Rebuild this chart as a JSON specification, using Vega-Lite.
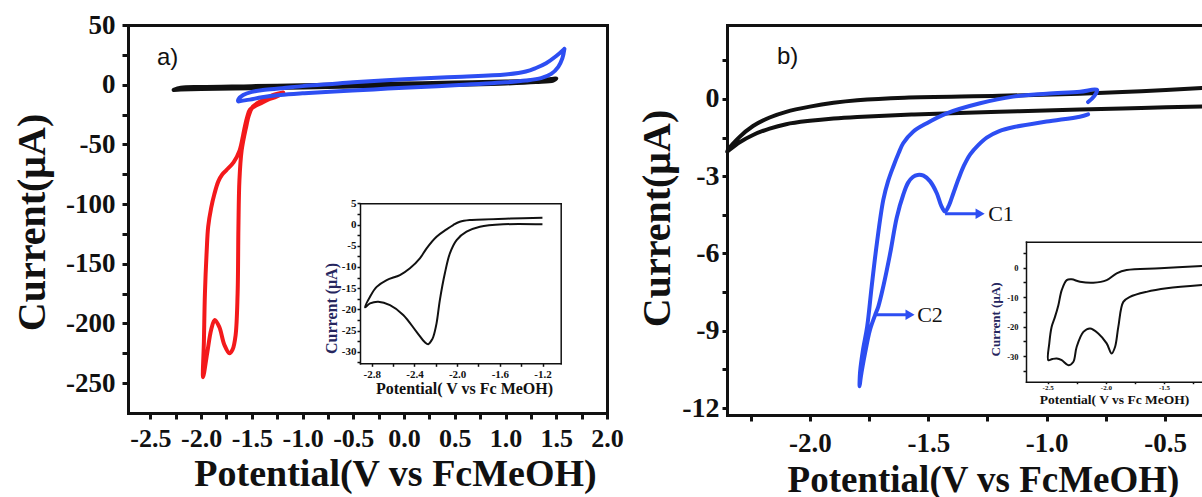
{
  "$schema": "https://vega.github.io/schema/vega-lite/v6.json",
  "width": 1202,
  "height": 497,
  "padding": 0,
  "autosize": {"type": "none"},
  "background": "white",
  "config": {
    "font": "Liberation Serif",
    "view": {"stroke": null},
    "style": {
      "guide-label": {"font": "Liberation Serif", "fontWeight": "bold", "fill": "#111111"},
      "guide-title": {"font": "Liberation Serif", "fontWeight": "bold"}
    },
    "axis": {
      "labelFont": "Liberation Serif",
      "titleFont": "Liberation Serif",
      "labelFontWeight": "bold",
      "titleFontWeight": "bold",
      "labelColor": "#111111",
      "titleColor": "#111111",
      "domainColor": "#111111",
      "tickColor": "#111111",
      "grid": false,
      "labelFlush": false,
      "labelOverlap": false,
      "domainCap": "square"
    }
  },
  "datasets": {
    "a_main": [
      {"series": "black", "i": 1, "potential": -2.27, "current": -4.4},
      {"series": "black", "i": 2, "potential": -2.2, "current": -2.6},
      {"series": "black", "i": 3, "potential": -2.0, "current": -1.9},
      {"series": "black", "i": 4, "potential": -1.5, "current": -1.2},
      {"series": "black", "i": 5, "potential": -1.0, "current": -0.4},
      {"series": "black", "i": 6, "potential": -0.5, "current": 0.3},
      {"series": "black", "i": 7, "potential": 0.0, "current": 1.0},
      {"series": "black", "i": 8, "potential": 0.5, "current": 1.8},
      {"series": "black", "i": 9, "potential": 1.0, "current": 2.6},
      {"series": "black", "i": 10, "potential": 1.3, "current": 3.6},
      {"series": "black", "i": 11, "potential": 1.45, "current": 4.8},
      {"series": "black", "i": 12, "potential": 1.5, "current": 5.2},
      {"series": "black", "i": 13, "potential": 1.47, "current": 3.5},
      {"series": "black", "i": 14, "potential": 1.3, "current": 2.2},
      {"series": "black", "i": 15, "potential": 1.0, "current": 1.0},
      {"series": "black", "i": 16, "potential": 0.5, "current": 0.0},
      {"series": "black", "i": 17, "potential": 0.0, "current": -0.9},
      {"series": "black", "i": 18, "potential": -0.5, "current": -1.6},
      {"series": "black", "i": 19, "potential": -1.0, "current": -2.3},
      {"series": "black", "i": 20, "potential": -1.5, "current": -3.0},
      {"series": "black", "i": 21, "potential": -2.0, "current": -3.6},
      {"series": "black", "i": 22, "potential": -2.2, "current": -4.1},
      {"series": "black", "i": 23, "potential": -2.27, "current": -4.4},
      {"series": "red", "i": 1, "potential": -1.19, "current": -6.5},
      {"series": "red", "i": 2, "potential": -1.3, "current": -9},
      {"series": "red", "i": 3, "potential": -1.39, "current": -12.8},
      {"series": "red", "i": 4, "potential": -1.49, "current": -18.4},
      {"series": "red", "i": 5, "potential": -1.53, "current": -26},
      {"series": "red", "i": 6, "potential": -1.555, "current": -35},
      {"series": "red", "i": 7, "potential": -1.6, "current": -55},
      {"series": "red", "i": 8, "potential": -1.622, "current": -80},
      {"series": "red", "i": 9, "potential": -1.632, "current": -120},
      {"series": "red", "i": 10, "potential": -1.64, "current": -175},
      {"series": "red", "i": 11, "potential": -1.66, "current": -210},
      {"series": "red", "i": 12, "potential": -1.69, "current": -222},
      {"series": "red", "i": 13, "potential": -1.72, "current": -225},
      {"series": "red", "i": 14, "potential": -1.77, "current": -218},
      {"series": "red", "i": 15, "potential": -1.82, "current": -203},
      {"series": "red", "i": 16, "potential": -1.865, "current": -197},
      {"series": "red", "i": 17, "potential": -1.9, "current": -205},
      {"series": "red", "i": 18, "potential": -1.94, "current": -225},
      {"series": "red", "i": 19, "potential": -1.98, "current": -245},
      {"series": "red", "i": 20, "potential": -1.972, "current": -215},
      {"series": "red", "i": 21, "potential": -1.962, "current": -175},
      {"series": "red", "i": 22, "potential": -1.945, "current": -140},
      {"series": "red", "i": 23, "potential": -1.93, "current": -119},
      {"series": "red", "i": 24, "potential": -1.9, "current": -103},
      {"series": "red", "i": 25, "potential": -1.87, "current": -92},
      {"series": "red", "i": 26, "potential": -1.83, "current": -81},
      {"series": "red", "i": 27, "potential": -1.79, "current": -75},
      {"series": "red", "i": 28, "potential": -1.75, "current": -71.5},
      {"series": "red", "i": 29, "potential": -1.68, "current": -65},
      {"series": "red", "i": 30, "potential": -1.62, "current": -55},
      {"series": "red", "i": 31, "potential": -1.585, "current": -42},
      {"series": "red", "i": 32, "potential": -1.568, "current": -35},
      {"series": "red", "i": 33, "potential": -1.545, "current": -27},
      {"series": "red", "i": 34, "potential": -1.519, "current": -21},
      {"series": "red", "i": 35, "potential": -1.47, "current": -18},
      {"series": "red", "i": 36, "potential": -1.42, "current": -16},
      {"series": "red", "i": 37, "potential": -1.34, "current": -12.5},
      {"series": "red", "i": 38, "potential": -1.257, "current": -10},
      {"series": "red", "i": 39, "potential": -1.19, "current": -7.2},
      {"series": "blue", "i": 1, "potential": 1.58, "current": 30},
      {"series": "blue", "i": 2, "potential": 1.5, "current": 24},
      {"series": "blue", "i": 3, "potential": 1.4, "current": 18},
      {"series": "blue", "i": 4, "potential": 1.3, "current": 14},
      {"series": "blue", "i": 5, "potential": 1.2, "current": 11},
      {"series": "blue", "i": 6, "potential": 1.0, "current": 8.5},
      {"series": "blue", "i": 7, "potential": 0.5, "current": 6.5},
      {"series": "blue", "i": 8, "potential": 0.0, "current": 4.5},
      {"series": "blue", "i": 9, "potential": -0.5, "current": 2},
      {"series": "blue", "i": 10, "potential": -0.75, "current": 0.3},
      {"series": "blue", "i": 11, "potential": -1.0, "current": -1.2},
      {"series": "blue", "i": 12, "potential": -1.2, "current": -3},
      {"series": "blue", "i": 13, "potential": -1.39, "current": -4.4},
      {"series": "blue", "i": 14, "potential": -1.5, "current": -6},
      {"series": "blue", "i": 15, "potential": -1.585, "current": -8.6},
      {"series": "blue", "i": 16, "potential": -1.63, "current": -12},
      {"series": "blue", "i": 17, "potential": -1.634, "current": -14},
      {"series": "blue", "i": 18, "potential": -1.6, "current": -13.5},
      {"series": "blue", "i": 19, "potential": -1.52, "current": -12.5},
      {"series": "blue", "i": 20, "potential": -1.4, "current": -10.5},
      {"series": "blue", "i": 21, "potential": -1.22, "current": -8.6},
      {"series": "blue", "i": 22, "potential": -1.0, "current": -7.2},
      {"series": "blue", "i": 23, "potential": -0.73, "current": -5.9},
      {"series": "blue", "i": 24, "potential": -0.3, "current": -4},
      {"series": "blue", "i": 25, "potential": 0.0, "current": -2.5},
      {"series": "blue", "i": 26, "potential": 0.5, "current": -0.5},
      {"series": "blue", "i": 27, "potential": 1.0, "current": 2},
      {"series": "blue", "i": 28, "potential": 1.2, "current": 3.5},
      {"series": "blue", "i": 29, "potential": 1.35, "current": 5.5},
      {"series": "blue", "i": 30, "potential": 1.45, "current": 9},
      {"series": "blue", "i": 31, "potential": 1.52, "current": 15},
      {"series": "blue", "i": 32, "potential": 1.56, "current": 22},
      {"series": "blue", "i": 33, "potential": 1.58, "current": 30}
    ],
    "a_inset": [
      {"i": 1, "potential": -1.201, "current": 1.6},
      {"i": 2, "potential": -1.5, "current": 1.4},
      {"i": 3, "potential": -1.881, "current": 1.06},
      {"i": 4, "potential": -1.975, "current": 0.66},
      {"i": 5, "potential": -2.037, "current": -0.12},
      {"i": 6, "potential": -2.099, "current": -1.14},
      {"i": 7, "potential": -2.193, "current": -2.87},
      {"i": 8, "potential": -2.286, "current": -5.6},
      {"i": 9, "potential": -2.349, "current": -7.97},
      {"i": 10, "potential": -2.442, "current": -10.3},
      {"i": 11, "potential": -2.536, "current": -11.9},
      {"i": 12, "potential": -2.66, "current": -13.1},
      {"i": 13, "potential": -2.754, "current": -14.7},
      {"i": 14, "potential": -2.816, "current": -17.0},
      {"i": 15, "potential": -2.863, "current": -19.5},
      {"i": 16, "potential": -2.816, "current": -18.6},
      {"i": 17, "potential": -2.739, "current": -18.2},
      {"i": 18, "potential": -2.629, "current": -19.0},
      {"i": 19, "potential": -2.505, "current": -21.3},
      {"i": 20, "potential": -2.38, "current": -25.3},
      {"i": 21, "potential": -2.3, "current": -27.8},
      {"i": 22, "potential": -2.271, "current": -28.2},
      {"i": 23, "potential": -2.24, "current": -27.3},
      {"i": 24, "potential": -2.224, "current": -26.5},
      {"i": 25, "potential": -2.193, "current": -23.3},
      {"i": 26, "potential": -2.162, "current": -17.8},
      {"i": 27, "potential": -2.115, "current": -11.5},
      {"i": 28, "potential": -2.068, "current": -6.8},
      {"i": 29, "potential": -2.005, "current": -3.66},
      {"i": 30, "potential": -1.912, "current": -1.7},
      {"i": 31, "potential": -1.787, "current": -0.52},
      {"i": 32, "potential": -1.569, "current": 0.05},
      {"i": 33, "potential": -1.201, "current": 0.05}
    ],
    "b_main": [
      {"series": "black", "i": 1, "potential": -0.344, "current": 0.42},
      {"series": "black", "i": 2, "potential": -0.6, "current": 0.3},
      {"series": "black", "i": 3, "potential": -0.86, "current": 0.2},
      {"series": "black", "i": 4, "potential": -1.2, "current": 0.12},
      {"series": "black", "i": 5, "potential": -1.6, "current": 0.05},
      {"series": "black", "i": 6, "potential": -1.8, "current": -0.05},
      {"series": "black", "i": 7, "potential": -1.9, "current": -0.15},
      {"series": "black", "i": 8, "potential": -2.0, "current": -0.3},
      {"series": "black", "i": 9, "potential": -2.1, "current": -0.5},
      {"series": "black", "i": 10, "potential": -2.17, "current": -0.72},
      {"series": "black", "i": 11, "potential": -2.24, "current": -1.05},
      {"series": "black", "i": 12, "potential": -2.3, "current": -1.5},
      {"series": "black", "i": 13, "potential": -2.35, "current": -2.04},
      {"series": "black", "i": 14, "potential": -2.3, "current": -1.7},
      {"series": "black", "i": 15, "potential": -2.24, "current": -1.4},
      {"series": "black", "i": 16, "potential": -2.17, "current": -1.15},
      {"series": "black", "i": 17, "potential": -2.1, "current": -0.98},
      {"series": "black", "i": 18, "potential": -2.0, "current": -0.85},
      {"series": "black", "i": 19, "potential": -1.9, "current": -0.76},
      {"series": "black", "i": 20, "potential": -1.8, "current": -0.7},
      {"series": "black", "i": 21, "potential": -1.56, "current": -0.6},
      {"series": "black", "i": 22, "potential": -1.2, "current": -0.5},
      {"series": "black", "i": 23, "potential": -0.86, "current": -0.41},
      {"series": "black", "i": 24, "potential": -0.6, "current": -0.35},
      {"series": "black", "i": 25, "potential": -0.344, "current": -0.29},
      {"series": "blue", "i": 1, "potential": -0.825, "current": -0.6},
      {"series": "blue", "i": 2, "potential": -0.86, "current": -0.69},
      {"series": "blue", "i": 3, "potential": -1.0, "current": -0.88},
      {"series": "blue", "i": 4, "potential": -1.142, "current": -1.1},
      {"series": "blue", "i": 5, "potential": -1.2, "current": -1.25},
      {"series": "blue", "i": 6, "potential": -1.253, "current": -1.5},
      {"series": "blue", "i": 7, "potential": -1.29, "current": -1.8},
      {"series": "blue", "i": 8, "potential": -1.323, "current": -2.15},
      {"series": "blue", "i": 9, "potential": -1.35, "current": -2.6},
      {"series": "blue", "i": 10, "potential": -1.372, "current": -3.1},
      {"series": "blue", "i": 11, "potential": -1.394, "current": -3.66},
      {"series": "blue", "i": 12, "potential": -1.412, "current": -4.12},
      {"series": "blue", "i": 13, "potential": -1.429, "current": -4.37},
      {"series": "blue", "i": 14, "potential": -1.445, "current": -4.15},
      {"series": "blue", "i": 15, "potential": -1.464, "current": -3.66},
      {"series": "blue", "i": 16, "potential": -1.492, "current": -3.2},
      {"series": "blue", "i": 17, "potential": -1.52, "current": -2.98},
      {"series": "blue", "i": 18, "potential": -1.545, "current": -2.95},
      {"series": "blue", "i": 19, "potential": -1.565, "current": -3.03},
      {"series": "blue", "i": 20, "potential": -1.585, "current": -3.25},
      {"series": "blue", "i": 21, "potential": -1.605, "current": -3.7},
      {"series": "blue", "i": 22, "potential": -1.633, "current": -4.6},
      {"series": "blue", "i": 23, "potential": -1.661, "current": -6.0},
      {"series": "blue", "i": 24, "potential": -1.69, "current": -7.28},
      {"series": "blue", "i": 25, "potential": -1.711, "current": -8.06},
      {"series": "blue", "i": 26, "potential": -1.725, "current": -8.4},
      {"series": "blue", "i": 27, "potential": -1.746, "current": -8.96},
      {"series": "blue", "i": 28, "potential": -1.767, "current": -9.87},
      {"series": "blue", "i": 29, "potential": -1.785, "current": -10.8},
      {"series": "blue", "i": 30, "potential": -1.79, "current": -11.15},
      {"series": "blue", "i": 31, "potential": -1.788, "current": -10.6},
      {"series": "blue", "i": 32, "potential": -1.775, "current": -9.7},
      {"series": "blue", "i": 33, "potential": -1.758, "current": -8.84},
      {"series": "blue", "i": 34, "potential": -1.739, "current": -7.28},
      {"series": "blue", "i": 35, "potential": -1.717, "current": -5.6},
      {"series": "blue", "i": 36, "potential": -1.69, "current": -3.92},
      {"series": "blue", "i": 37, "potential": -1.67, "current": -3.2},
      {"series": "blue", "i": 38, "potential": -1.648, "current": -2.63},
      {"series": "blue", "i": 39, "potential": -1.625, "current": -2.1},
      {"series": "blue", "i": 40, "potential": -1.606, "current": -1.72},
      {"series": "blue", "i": 41, "potential": -1.564, "current": -1.27},
      {"series": "blue", "i": 42, "potential": -1.506, "current": -0.94},
      {"series": "blue", "i": 43, "potential": -1.422, "current": -0.56},
      {"series": "blue", "i": 44, "potential": -1.281, "current": -0.17},
      {"series": "blue", "i": 45, "potential": -1.142, "current": 0.09},
      {"series": "blue", "i": 46, "potential": -1.0, "current": 0.2},
      {"series": "blue", "i": 47, "potential": -0.859, "current": 0.28},
      {"series": "blue", "i": 48, "potential": -0.787, "current": 0.35},
      {"series": "blue", "i": 49, "potential": -0.8, "current": 0.1},
      {"series": "blue", "i": 50, "potential": -0.825, "current": -0.12}
    ],
    "b_inset": [
      {"i": 1, "potential": -1.174, "current": 0.57},
      {"i": 2, "potential": -1.535, "current": -0.2},
      {"i": 3, "potential": -1.821, "current": -0.79},
      {"i": 4, "potential": -1.907, "current": -1.9},
      {"i": 5, "potential": -1.993, "current": -4.2},
      {"i": 6, "potential": -2.108, "current": -5.1},
      {"i": 7, "potential": -2.222, "current": -4.77},
      {"i": 8, "potential": -2.294, "current": -3.95},
      {"i": 9, "potential": -2.336, "current": -4.2},
      {"i": 10, "potential": -2.379, "current": -7.6},
      {"i": 11, "potential": -2.408, "current": -12.7},
      {"i": 12, "potential": -2.437, "current": -16.7},
      {"i": 13, "potential": -2.466, "current": -20.1},
      {"i": 14, "potential": -2.486, "current": -25.7},
      {"i": 15, "potential": -2.494, "current": -31.4},
      {"i": 16, "potential": -2.46, "current": -31.0},
      {"i": 17, "potential": -2.422, "current": -30.8},
      {"i": 18, "potential": -2.379, "current": -31.4},
      {"i": 19, "potential": -2.322, "current": -33.1},
      {"i": 20, "potential": -2.28, "current": -32.0},
      {"i": 21, "potential": -2.251, "current": -26.9},
      {"i": 22, "potential": -2.193, "current": -21.8},
      {"i": 23, "potential": -2.136, "current": -20.6},
      {"i": 24, "potential": -2.065, "current": -22.3},
      {"i": 25, "potential": -1.993, "current": -25.7},
      {"i": 26, "potential": -1.95, "current": -29.1},
      {"i": 27, "potential": -1.921, "current": -26.9},
      {"i": 28, "potential": -1.893, "current": -20.1},
      {"i": 29, "potential": -1.85, "current": -11.6},
      {"i": 30, "potential": -1.793, "current": -9.9},
      {"i": 31, "potential": -1.65, "current": -8.2},
      {"i": 32, "potential": -1.477, "current": -7.0},
      {"i": 33, "potential": -1.174, "current": -5.9}
    ],
    "a_text": [{"label": "a)", "potential": -2.435, "current": 22.3}],
    "b_text": [{"label": "b)", "potential": -2.139, "current": 1.63}],
    "b_notes": [
      {"label": "C1", "potential": -1.247, "current": -4.46},
      {"label": "C2", "potential": -1.547, "current": -8.38}
    ],
    "b_arrows": [
      {"from": -1.429, "to": -1.281, "current": -4.46},
      {"from": -1.72, "to": -1.577, "current": -8.38}
    ]
  },
  "layer": [
    {
      "layer": [
        {
          "data": {"name": "a_main"},
          "mark": {"type": "line", "strokeWidth": 4, "interpolate": "catmull-rom", "strokeCap": "round", "strokeJoin": "round"},
          "encoding": {
            "x": {
              "field": "potential", "type": "quantitative",
              "scale": {"domain": [-2.72, 2.0], "range": [128, 607], "nice": false, "zero": false},
              "axis": {
                "orient": "bottom", "offset": -84,
                "values": [-2.5, -2.25, -2, -1.75, -1.5, -1.25, -1, -0.75, -0.5, -0.25, 0, 0.25, 0.5, 0.75, 1, 1.25, 1.5, 1.75, 2],
                "labelExpr": "abs(datum.value*2-round(datum.value*2))<0.001 ? replace(format(datum.value,'.1f'),'\u2212','-') : ''",
                "tickSize": 6,
                "tickWidth": 3, "domainWidth": 3,
                "labelFont": "Liberation Serif", "labelFontWeight": "bold", "labelColor": "#111111",
                "labelFontSize": 26, "labelPadding": 6,
                "title": "Potential(V vs FcMeOH)", "titleFontSize": 38,
                "titleX": 395, "titleY": 72, "titleAlign": "center", "titleBaseline": "alphabetic", "titleAngle": 0
              }
            },
            "y": {
              "field": "current", "type": "quantitative",
              "scale": {"domain": [-275, 50], "range": [413, 25], "nice": false, "zero": false},
              "axis": {
                "orient": "left", "offset": -128,
                "values": [50, 25, 0, -25, -50, -75, -100, -125, -150, -175, -200, -225, -250],
                "labelExpr": "datum.value % 50 == 0 ? replace(format(datum.value,'d'),'\u2212','-') : ''",
                "tickSize": 6,
                "tickWidth": 3, "domainWidth": 3,
                "labelFont": "Liberation Serif", "labelFontWeight": "bold", "labelColor": "#111111",
                "labelFontSize": 27, "labelPadding": 7,
                "title": "Current(μA)", "titleFontSize": 40,
                "titleX": -96, "titleY": 222, "titleAngle": 270, "titleAlign": "center", "titleBaseline": "middle"
              }
            },
            "color": {
              "field": "series", "type": "nominal",
              "scale": {"domain": ["black", "blue", "red"], "range": ["#111111", "#2d4ef2", "#f3191b"]},
              "legend": null
            },
            "order": {"field": "i", "type": "quantitative"}
          }
        },
        {
          "data": {"name": "a_text"},
          "mark": {"type": "text", "font": "Liberation Sans", "fontSize": 24, "align": "left", "baseline": "middle", "color": "#111111"},
          "encoding": {
            "x": {
              "field": "potential", "type": "quantitative",
              "scale": {"domain": [-2.72, 2.0], "range": [128, 607], "nice": false, "zero": false},
              "axis": {"orient": "top", "offset": -25, "ticks": false, "labels": false, "title": null, "domainWidth": 3}
            },
            "y": {
              "field": "current", "type": "quantitative",
              "scale": {"domain": [-275, 50], "range": [413, 25], "nice": false, "zero": false},
              "axis": {"orient": "right", "offset": -595, "ticks": false, "labels": false, "title": null, "domainWidth": 3}
            },
            "text": {"field": "label"}
          }
        }
      ],
      "resolve": {"axis": {"x": "independent", "y": "independent"}}
    },
    {
      "layer": [
        {
          "data": {"name": "a_inset"},
          "mark": {"type": "line", "strokeWidth": 2, "color": "#111111", "interpolate": "catmull-rom", "strokeJoin": "round"},
          "encoding": {
            "x": {
              "field": "potential", "type": "quantitative",
              "scale": {"domain": [-2.91, -1.03], "range": [360, 560.7], "nice": false, "zero": false},
              "axis": {
                "orient": "bottom", "offset": -133.7,
                "values": [-2.8, -2.6, -2.4, -2.2, -2, -1.8, -1.6, -1.4, -1.2],
                "labelExpr": "abs(datum.value/0.4-round(datum.value/0.4))<0.01 ? replace(format(datum.value,'.1f'),'\u2212','-') : ''",
                "tickSize": 3,
                "tickWidth": 1.5, "domainWidth": 1.5,
                "labelFont": "Liberation Serif", "labelFontWeight": "bold", "labelColor": "#111111",
                "labelFontSize": 11, "labelPadding": 2,
                "title": "Potential( V vs Fc MeOH)", "titleFontSize": 16,
                "titleX": 464, "titleY": 29.7, "titleAlign": "center", "titleBaseline": "alphabetic", "titleAngle": 0
              }
            },
            "y": {
              "field": "current", "type": "quantitative",
              "scale": {"domain": [-32.7, 5], "range": [363.3, 203.3], "nice": false, "zero": false},
              "axis": {
                "orient": "left", "offset": -360,
                "values": [5, 2.5, 0, -2.5, -5, -7.5, -10, -12.5, -15, -17.5, -20, -22.5, -25, -27.5, -30, -32.5],
                "labelExpr": "abs(datum.value/5-round(datum.value/5))<0.01 ? replace(format(datum.value,'d'),'\u2212','-') : ''",
                "tickSize": 3,
                "tickWidth": 1.5, "domainWidth": 1.5,
                "labelFont": "Liberation Serif", "labelFontWeight": "bold", "labelColor": "#111111",
                "labelFontSize": 11, "labelPadding": 1,
                "title": "Current (μA)", "titleFontSize": 16, "titleColor": "#26265e",
                "titleX": -28.5, "titleY": 308, "titleAngle": 270, "titleAlign": "center", "titleBaseline": "middle"
              }
            },
            "order": {"field": "i", "type": "quantitative"}
          }
        },
        {
          "data": {"name": "a_inset"},
          "mark": {"type": "line", "strokeOpacity": 0},
          "encoding": {
            "x": {
              "field": "potential", "type": "quantitative",
              "scale": {"domain": [-2.91, -1.03], "range": [360, 560.7], "nice": false, "zero": false},
              "axis": {"orient": "top", "offset": -203.3, "ticks": false, "labels": false, "title": null, "domainWidth": 1.5}
            },
            "y": {
              "field": "current", "type": "quantitative",
              "scale": {"domain": [-32.7, 5], "range": [363.3, 203.3], "nice": false, "zero": false},
              "axis": {"orient": "right", "offset": -641.3, "ticks": false, "labels": false, "title": null, "domainWidth": 1.5}
            },
            "order": {"field": "i", "type": "quantitative"}
          }
        }
      ],
      "resolve": {"axis": {"x": "independent", "y": "independent"}}
    },
    {
      "layer": [
        {
          "data": {"name": "b_main"},
          "mark": {"type": "line", "strokeWidth": 4, "interpolate": "catmull-rom", "strokeCap": "round", "strokeJoin": "round"},
          "encoding": {
            "x": {
              "field": "potential", "type": "quantitative",
              "scale": {"domain": [-2.35, -0.344], "range": [727, 1202], "nice": false, "zero": false},
              "axis": {
                "orient": "bottom", "offset": -82,
                "values": [-2.25, -2, -1.75, -1.5, -1.25, -1, -0.75, -0.5],
                "labelExpr": "abs(datum.value*2-round(datum.value*2))<0.001 ? replace(format(datum.value,'.1f'),'\u2212','-') : ''",
                "tickSize": 6,
                "tickWidth": 3, "domainWidth": 3,
                "labelFont": "Liberation Serif", "labelFontWeight": "bold", "labelColor": "#111111",
                "labelFontSize": 27, "labelPadding": 9,
                "title": "Potential(V vs FcMeOH)", "titleFontSize": 37,
                "titleX": 983, "titleY": 76, "titleAlign": "center", "titleBaseline": "alphabetic", "titleAngle": 0
              }
            },
            "y": {
              "field": "current", "type": "quantitative",
              "scale": {"domain": [-12.27, 2.87], "range": [415, 25], "nice": false, "zero": false},
              "axis": {
                "orient": "left", "offset": -727,
                "values": [1.5, 0, -1.5, -3, -4.5, -6, -7.5, -9, -10.5, -12],
                "labelExpr": "datum.value % 3 == 0 ? replace(format(datum.value,'d'),'\u2212','-') : ''",
                "tickSize": 5,
                "tickWidth": 3, "domainWidth": 3,
                "labelFont": "Liberation Serif", "labelFontWeight": "bold", "labelColor": "#111111",
                "labelFontSize": 28, "labelPadding": 3,
                "title": "Current(μA)", "titleFontSize": 40,
                "titleX": -70, "titleY": 218, "titleAngle": 270, "titleAlign": "center", "titleBaseline": "middle"
              }
            },
            "color": {
              "field": "series", "type": "nominal",
              "scale": {"domain": ["black", "blue", "red"], "range": ["#111111", "#2d4ef2", "#f3191b"]},
              "legend": null
            },
            "order": {"field": "i", "type": "quantitative"}
          }
        },
        {
          "data": {"name": "b_text"},
          "mark": {"type": "text", "font": "Liberation Sans", "fontSize": 24, "align": "left", "baseline": "middle", "color": "#111111"},
          "encoding": {
            "x": {
              "field": "potential", "type": "quantitative",
              "scale": {"domain": [-2.35, -0.344], "range": [727, 1202], "nice": false, "zero": false},
              "axis": {"orient": "top", "offset": -25, "ticks": false, "labels": false, "title": null, "domainWidth": 3}
            },
            "y": {
              "field": "current", "type": "quantitative",
              "scale": {"domain": [-12.27, 2.87], "range": [415, 25], "nice": false, "zero": false},
              "axis": null
            },
            "text": {"field": "label"}
          }
        },
        {
          "data": {"name": "b_arrows"},
          "mark": {"type": "rule", "strokeWidth": 3, "color": "#2d4ef2"},
          "encoding": {
            "x": {"field": "from", "type": "quantitative", "scale": {"domain": [-2.35, -0.344], "range": [727, 1202], "nice": false, "zero": false}, "axis": null},
            "x2": {"field": "to"},
            "y": {"field": "current", "type": "quantitative", "scale": {"domain": [-12.27, 2.87], "range": [415, 25], "nice": false, "zero": false}, "axis": null}
          }
        },
        {
          "data": {"name": "b_arrows"},
          "mark": {"type": "point", "shape": "triangle-right", "filled": true, "size": 110, "color": "#2d4ef2", "opacity": 1},
          "encoding": {
            "x": {"field": "to", "type": "quantitative", "scale": {"domain": [-2.35, -0.344], "range": [727, 1202], "nice": false, "zero": false}, "axis": null},
            "y": {"field": "current", "type": "quantitative", "scale": {"domain": [-12.27, 2.87], "range": [415, 25], "nice": false, "zero": false}, "axis": null}
          }
        },
        {
          "data": {"name": "b_notes"},
          "mark": {"type": "text", "font": "Liberation Serif", "fontSize": 22, "align": "left", "baseline": "middle", "color": "#111111"},
          "encoding": {
            "x": {"field": "potential", "type": "quantitative", "scale": {"domain": [-2.35, -0.344], "range": [727, 1202], "nice": false, "zero": false}, "axis": null},
            "y": {"field": "current", "type": "quantitative", "scale": {"domain": [-12.27, 2.87], "range": [415, 25], "nice": false, "zero": false}, "axis": null},
            "text": {"field": "label"}
          }
        }
      ],
      "resolve": {"axis": {"x": "independent", "y": "independent"}}
    },
    {
      "layer": [
        {
          "data": {"name": "b_inset"},
          "mark": {"type": "line", "strokeWidth": 2, "color": "#111111", "interpolate": "catmull-rom", "strokeJoin": "round"},
          "encoding": {
            "x": {
              "field": "potential", "type": "quantitative",
              "scale": {"domain": [-2.686, -1.174], "range": [1026, 1202], "nice": false, "zero": false},
              "axis": {
                "orient": "bottom", "offset": -115.3,
                "values": [-2.5, -2.25, -2, -1.75, -1.5, -1.25],
                "labelExpr": "abs(datum.value*2-round(datum.value*2))<0.001 ? replace(format(datum.value,'.1f'),'\u2212','-') : ''",
                "tickSize": 2,
                "tickWidth": 1.5, "domainWidth": 1.5,
                "labelFont": "Liberation Serif", "labelFontWeight": "bold", "labelColor": "#111111",
                "labelFontSize": 7, "labelPadding": 0,
                "title": "Potential( V vs Fc MeOH)", "titleFontSize": 13.5,
                "titleX": 1114, "titleY": 21.5, "titleAlign": "center", "titleBaseline": "alphabetic", "titleAngle": 0
              }
            },
            "y": {
              "field": "current", "type": "quantitative",
              "scale": {"domain": [-38.7, 8.84], "range": [381.7, 241.7], "nice": false, "zero": false},
              "axis": {
                "orient": "left", "offset": -1026,
                "values": [5, 0, -5, -10, -15, -20, -25, -30, -35],
                "labelExpr": "datum.value % 10 == 0 ? replace(format(datum.value,'d'),'\u2212','-') : ''",
                "tickSize": 3,
                "tickWidth": 1.5, "domainWidth": 1.5,
                "labelFont": "Liberation Serif", "labelFontWeight": "bold", "labelColor": "#111111",
                "labelFontSize": 8.5, "labelPadding": 5,
                "title": "Current (μA)", "titleFontSize": 13, "titleColor": "#26265e",
                "titleX": -31, "titleY": 319, "titleAngle": 270, "titleAlign": "center", "titleBaseline": "middle"
              }
            },
            "order": {"field": "i", "type": "quantitative"}
          }
        },
        {
          "data": {"name": "b_inset"},
          "mark": {"type": "line", "strokeOpacity": 0},
          "encoding": {
            "x": {
              "field": "potential", "type": "quantitative",
              "scale": {"domain": [-2.686, -1.174], "range": [1026, 1202], "nice": false, "zero": false},
              "axis": {"orient": "top", "offset": -241.7, "ticks": false, "labels": false, "title": null, "domainWidth": 1.5}
            },
            "y": {
              "field": "current", "type": "quantitative",
              "scale": {"domain": [-38.7, 8.84], "range": [381.7, 241.7], "nice": false, "zero": false},
              "axis": null
            },
            "order": {"field": "i", "type": "quantitative"}
          }
        }
      ],
      "resolve": {"axis": {"x": "independent", "y": "independent"}}
    }
  ],
  "resolve": {
    "scale": {"x": "independent", "y": "independent"},
    "axis": {"x": "independent", "y": "independent"}
  }
}
